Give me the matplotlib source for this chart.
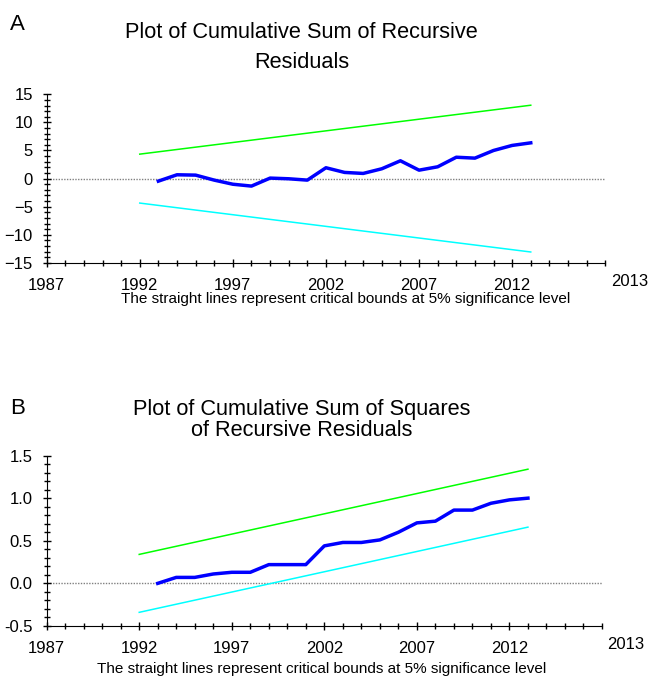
import numpy as np
import matplotlib.pyplot as plt
from matplotlib.ticker import MultipleLocator

plt.rcParams['font.family'] = ['Liberation Sans', 'DejaVu Sans']

# data
years = list(range(1993, 2014))
cusum = [-0.45, 0.68, 0.62, -0.27, -1.0, -1.33, 0.09, -0.03, -0.27, 1.93,
         1.1, 0.92, 1.75, 3.17, 1.5, 2.1, 3.8, 3.64, 5.0, 5.9, 6.36]
cusumsq = [0.0, 0.07, 0.07, 0.11, 0.13, 0.13, 0.22, 0.22, 0.22, 0.44,
           0.48, 0.48, 0.51, 0.60, 0.71, 0.73, 0.86, 0.86, 0.94, 0.98, 1.0]

bound_years = [1992, 2013]
cusum_upper = [4.35, 13.05]
cusum_lower = [-4.35, -13.05]
sq_upper = [0.34, 1.34]
sq_lower = [-0.34, 0.66]

xtick_labels = ['1987', '1992', '1997', '2002', '2007', '2012']
caption = 'The straight lines represent critical bounds at 5% significance level'

fig = plt.figure(figsize=(6.48, 6.83), dpi=100)

ax1 = fig.add_axes([0.072, 0.615, 0.862, 0.247])
ax2 = fig.add_axes([0.072, 0.0835, 0.857, 0.2495])


def style(ax, ylim, major, minor):
    ax.set_xlim(1987, 2017)
    ax.set_ylim(*ylim)
    for s in ['top', 'right']:
        ax.spines[s].set_visible(False)
    ax.xaxis.set_minor_locator(MultipleLocator(1))
    ax.set_xticks([1987, 1992, 1997, 2002, 2007, 2012], xtick_labels)
    ax.yaxis.set_minor_locator(MultipleLocator(minor))
    ax.tick_params(which='both', direction='inout', length=6, width=1,
                   labelsize=12)
    ax.tick_params(axis='x', pad=8)
    ax.tick_params(axis='y', pad=7)
    ax.tick_params(which='minor', length=5)
    ax.axhline(0, color='grey', lw=1, ls=(0, (1, 1)), zorder=1)
    ax.text(2018.3, -0.065, '2013', transform=ax.get_xaxis_transform(),
            ha='center', va='top', fontsize=12)


style(ax1, (-15, 15), 5, 1)
ax1.set_yticks([-15, -10, -5, 0, 5, 10, 15])
ax1.plot(bound_years, cusum_upper, color='#00ff00', lw=1.1)
ax1.plot(bound_years, cusum_lower, color='#00ffff', lw=1.1)
ax1.plot(years, cusum, color='#0000ff', lw=2.5)

style(ax2, (-0.5, 1.5), 0.5, 0.1)
ax2.set_yticks([-0.5, 0.0, 0.5, 1.0, 1.5], ['-0.5', '0.0', '0.5', '1.0', '1.5'])
ax2.plot(bound_years, sq_upper, color='#00ff00', lw=1.1)
ax2.plot(bound_years, sq_lower, color='#00ffff', lw=1.1)
ax2.plot(years, cusumsq, color='#0000ff', lw=2.5)

# titles, panel letters, captions
fig.text(0.016, 1 - 25 / 683, 'A', fontsize=16, va='center')
fig.text(0.465, 1 - 33 / 683, 'Plot of Cumulative Sum of Recursive', fontsize=15.7,
         ha='center', va='center')
fig.text(0.465, 1 - 63 / 683, 'Residuals', fontsize=15.7, ha='center', va='center')
fig.text(0.533, 1 - 299 / 683, caption, fontsize=11, ha='center', va='center')

fig.text(0.016, 1 - 408 / 683, 'B', fontsize=16, va='center')
fig.text(0.465, 1 - 410 / 683, 'Plot of Cumulative Sum of Squares', fontsize=15.7,
         ha='center', va='center')
fig.text(0.465, 1 - 430 / 683, 'of Recursive Residuals', fontsize=15.7,
         ha='center', va='center')
fig.text(0.497, 1 - 669 / 683, caption, fontsize=11, ha='center', va='center')

fig.savefig('out.png', dpi=100)
